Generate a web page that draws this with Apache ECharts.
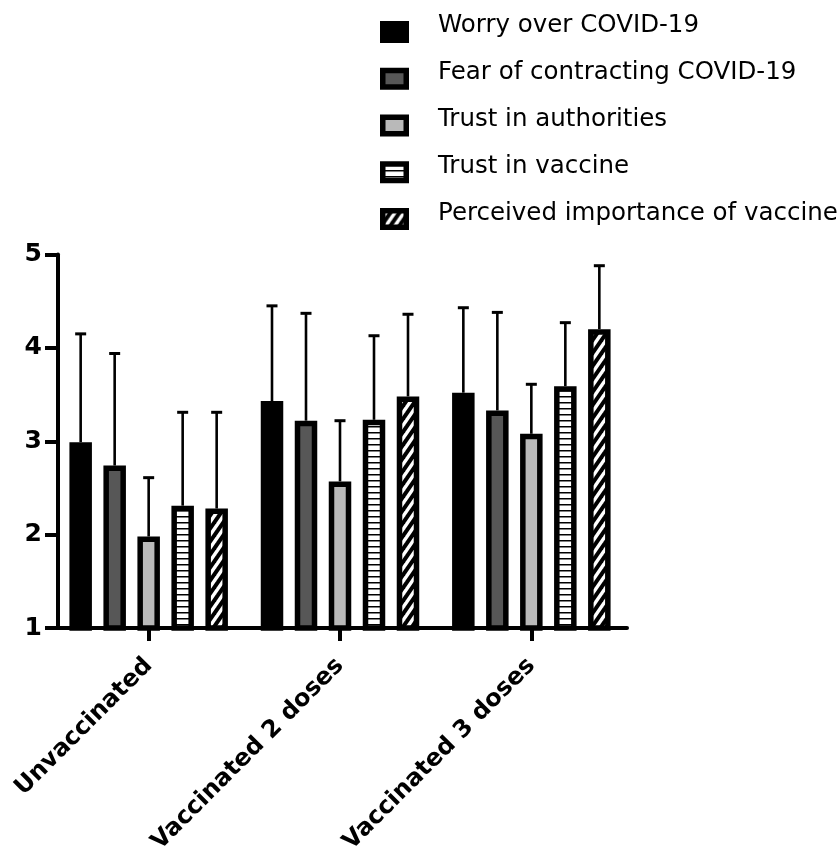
<!DOCTYPE html>
<html>
<head>
<meta charset="utf-8">
<script src="https://cdn.jsdelivr.net/npm/echarts@6/dist/echarts.min.js"></script>
<style>
html,body{margin:0;padding:0;background:#fff;}
#chart{width:838px;height:852px;}
</style>
</head>
<body>
<div id="chart"></div>
<script>
// ---- data ----
const categories = ['Unvaccinated', 'Vaccinated 2 doses', 'Vaccinated 3 doses'];
const seriesNames = ['Worry over COVID-19', 'Fear of contracting COVID-19', 'Trust in authorities', 'Trust in vaccine', 'Perceived importance of vaccine'];
const worry      = [2.99, 3.43, 3.52];
const fear       = [2.74, 3.22, 3.33];
const trustAuth  = [1.98, 2.57, 3.08];
const trustVacc  = [2.31, 3.23, 3.59];
const importance = [2.28, 3.48, 4.20];
// upper ends of the error bars
const worryUpper      = [4.15, 4.45, 4.43];
const fearUpper       = [3.94, 4.37, 4.38];
const trustAuthUpper  = [2.61, 3.22, 3.61];
const trustVaccUpper  = [3.31, 4.13, 4.27];
const importanceUpper = [3.31, 4.36, 4.88];
const yTicks = [1, 2, 3, 4, 5];

// ---- styles ----
const FONT = 'DejaVu Sans';
function stripeH() {
  const c = document.createElement('canvas');
  c.width = 8; c.height = 6;
  const g = c.getContext('2d');
  g.fillStyle = '#fff'; g.fillRect(0, 0, 8, 6);
  g.fillStyle = '#000'; g.fillRect(0, 0, 8, 1.5);
  return c;
}
function stripeD() {
  const w = 9, h = 13;
  const c = document.createElement('canvas');
  c.width = w; c.height = h;
  const g = c.getContext('2d');
  g.fillStyle = '#fff'; g.fillRect(0, 0, w, h);
  g.strokeStyle = '#000'; g.lineWidth = 4;
  const lines = [[-w, 2 * h, 2 * w, -h], [-2 * w, 2 * h, w, -h], [0, 2 * h, 3 * w, -h]];
  lines.forEach(l => { g.beginPath(); g.moveTo(l[0], l[1]); g.lineTo(l[2], l[3]); g.stroke(); });
  return c;
}
const fills = ['#000000', '#575757', '#b9b9b9',
  { image: stripeH(), repeat: 'repeat' },
  { image: stripeD(), repeat: 'repeat' }];

const values = [worry, fear, trustAuth, trustVacc, importance];
const uppers = [worryUpper, fearUpper, trustAuthUpper, trustVaccUpper, importanceUpper];

const BAR_W = 22.5, GAP_PX = 11.5, BORDER = 5.5;
const series = [];
values.forEach((vals, i) => {
  series.push({
    name: seriesNames[i],
    type: 'bar',
    data: vals,
    barWidth: BAR_W,
    barGap: (GAP_PX / BAR_W * 100).toFixed(1) + '%',
    itemStyle: { color: fills[i], borderColor: '#000', borderWidth: BORDER },
    emphasis: { disabled: true },
    z: 3
  });
});
values.forEach((vals, i) => {
  const off = (i - (values.length - 1) / 2) * (BAR_W + GAP_PX);
  series.push({
    name: seriesNames[i] + ' SD',
    type: 'custom',
    data: vals.map((v, k) => [k, v, uppers[i][k]]),
    z: 2,
    renderItem: function (params, api) {
      const base = api.coord([api.value(0), api.value(1)]);
      const top = api.coord([api.value(0), api.value(2)]);
      const x = base[0] + off;
      return {
        type: 'group',
        children: [
          { type: 'line', shape: { x1: x, y1: base[1], x2: x, y2: top[1] }, style: { stroke: '#000', lineWidth: 2.6 } },
          { type: 'line', shape: { x1: x - 5.5, y1: top[1], x2: x + 5.5, y2: top[1] }, style: { stroke: '#000', lineWidth: 3 } }
        ]
      };
    }
  });
});

const chart = echarts.init(document.getElementById('chart'), null, { renderer: 'canvas' });
chart.setOption({
  backgroundColor: '#ffffff',
  animation: false,
  textStyle: { fontFamily: FONT },
  legend: [
    {
      data: seriesNames,
      orient: 'vertical',
      left: 380, top: 21, padding: 0,
      icon: 'rect',
      itemWidth: 23.5, itemHeight: 16.5, itemGap: 24.75,
      itemStyle: { borderColor: '#000', borderWidth: BORDER },
      formatter: function () { return ''; },
      textStyle: { fontSize: 10, lineHeight: 10 },
      selectedMode: false
    },
    {
      data: seriesNames,
      orient: 'vertical',
      left: 432, top: 13.5, padding: 0,
      icon: 'rect',
      itemWidth: 1, itemHeight: 1, itemGap: 22,
      itemStyle: { opacity: 0, borderWidth: 0 },
      textStyle: { fontFamily: FONT, fontSize: 24.5, lineHeight: 24, color: '#000' },
      selectedMode: false
    }
  ],
  grid: {
    left: 53, right: 211, top: 254.5, bottom: 224,
    containLabel: false, outerBoundsMode: 'none'
  },
  xAxis: {
    type: 'category',
    data: categories,
    axisLine: { show: true, lineStyle: { color: '#000', width: 4 } },
    axisTick: { show: true, alignWithLabel: true, length: 13, lineStyle: { color: '#000', width: 4 } },
    axisLabel: {
      interval: 0, rotate: 45, margin: 34,
      fontFamily: FONT, fontWeight: 'bold', fontSize: 24, color: '#000'
    },
    splitLine: { show: false }
  },
  yAxis: {
    type: 'value',
    min: yTicks[0], max: yTicks[yTicks.length - 1], interval: 1,
    offset: -5,
    axisLine: { show: true, lineStyle: { color: '#000', width: 4 } },
    axisTick: { show: true, length: 13, lineStyle: { color: '#000', width: 4 } },
    axisLabel: { margin: 16, fontFamily: FONT, fontWeight: 'bold', fontSize: 25, color: '#000' },
    splitLine: { show: false }
  },
  series: series
});
</script>
</body>
</html>
